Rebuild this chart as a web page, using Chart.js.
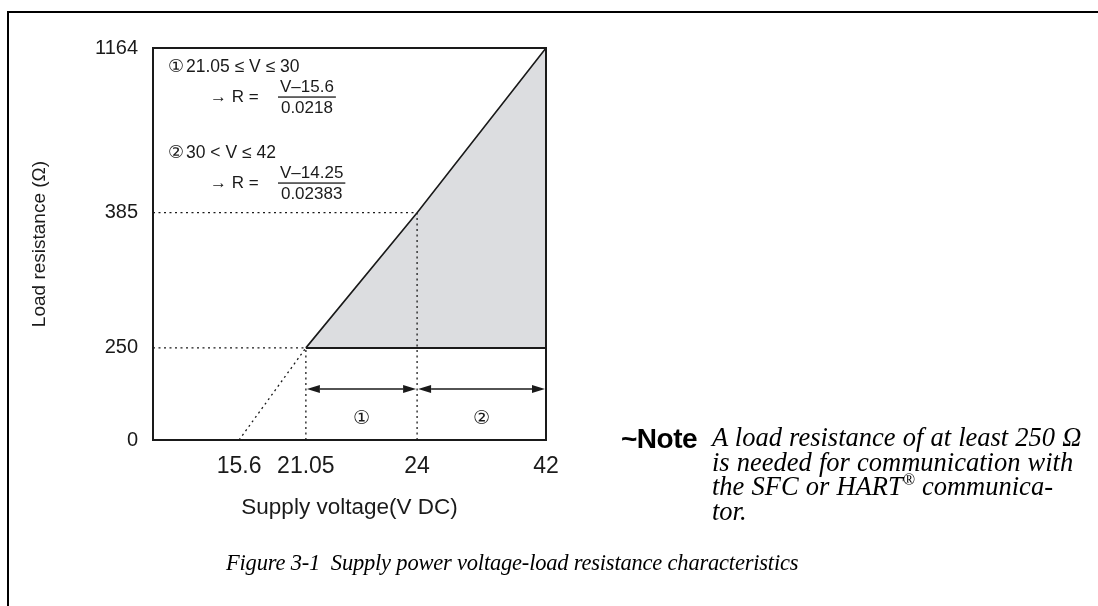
<!DOCTYPE html>
<html>
<head>
<meta charset="utf-8">
<script src="https://cdn.jsdelivr.net/npm/chart.js@4"></script>
<style>
  html, body { margin: 0; padding: 0; background: #fff; }
  body { width: 1098px; height: 606px; position: relative; overflow: hidden; }
  .frame { position: absolute; left: 7px; top: 11px; width: 1100px; height: 600px;
           border-left: 2px solid #000; border-top: 2px solid #000; }
  #wrap { position: absolute; left: 0; top: 0; width: 1098px; height: 606px; }
  .note-head { position: absolute; left: 621px; top: 425px; font: bold 28px "Liberation Sans", Arial, sans-serif; line-height: 28px; letter-spacing: -0.5px; }
  .note-text { position: absolute; left: 712px; top: 425px; font: italic 26.5px "Liberation Serif", "Times New Roman", serif; line-height: 24.5px; white-space: nowrap; word-spacing: 0.5px; }
  .note-text sup { font-size: 16px; line-height: 0; vertical-align: 10px; }
  .caption { position: absolute; left: 226px; top: 550px; font: italic 22.5px "Liberation Serif", "Times New Roman", serif; white-space: pre; letter-spacing: -0.2px; }
</style>
</head>
<body>
<div class="frame"></div>
<div id="wrap"><canvas id="myChart" width="1098" height="606"></canvas></div>
<div class="note-head">~Note</div>
<div class="note-text">A load resistance of at least 250 Ω<br>is needed for communication with<br>the SFC or HART<sup>®</sup> communica-<br>tor.</div>
<div class="caption">Figure 3-1  Supply power voltage-load resistance characteristics</div>
<script>
// axis ticks
const voltageTicks = [15.6, 21.05, 24, 42];
const resistanceTicks = [0, 250, 385, 1164];

// operating region: upper limit R = f(V) and the 250 ohm minimum
const limitVoltage = [21.05, 24, 42];
const limitResistance = [250, 385, 1164];
const minResistance = [250, 250, 250];

// R line extrapolated back to zero
const zeroVoltage = 15.6;
const voltageStart = 10;

// the axes are not to scale: where each value sits along the axis (0..1)
const xStops = { values: [voltageStart, 15.6, 21.05, 24, 42], at: [0, 0.219, 0.389, 0.672, 1], ticks: voltageTicks };
const yStops = { values: [0, 250, 385, 1164], at: [0, 0.235, 0.58, 1], ticks: resistanceTicks };

const sans = '"Liberation Sans", Arial, sans-serif';
const ink = "#1a1a1a";

// linear scale that interpolates between fixed stops
class BrokenScale extends Chart.LinearScale {
  stops() {
    return this.axis === "x" ? xStops : yStops;
  }
  determineDataLimits() {
    const s = this.stops();
    this.min = s.values[0];
    this.max = s.values[s.values.length - 1];
  }
  buildTicks() {
    return this.stops().ticks.map((v) => ({ value: v }));
  }
  getPixelForValue(value) {
    const { values, at } = this.stops();
    let i = 1;
    while (i < values.length - 1 && value > values[i]) i++;
    const t = (value - values[i - 1]) / (values[i] - values[i - 1]);
    return this.getPixelForDecimal(at[i - 1] + t * (at[i] - at[i - 1]));
  }
  getValueForPixel(pixel) {
    const { values, at } = this.stops();
    const d = this.getDecimalForPixel(pixel);
    let i = 1;
    while (i < at.length - 1 && d > at[i]) i++;
    const t = (d - at[i - 1]) / (at[i] - at[i - 1]);
    return values[i - 1] + t * (values[i] - values[i - 1]);
  }
}
BrokenScale.id = "broken";
BrokenScale.defaults = Chart.LinearScale.defaults;
Chart.register(BrokenScale);

function pts(xs, ys) {
  return xs.map((x, i) => ({ x: x, y: ys[i] }));
}

function dotted(data) {
  return {
    data: data,
    borderColor: ink,
    borderWidth: 1.3,
    borderDash: [2, 3.5],
    pointRadius: 0,
    fill: false,
    order: 1,
  };
}

function fraction(ctx, x, y, top, bottom) {
  const w = Math.max(ctx.measureText(top).width, ctx.measureText(bottom).width) + 4;
  ctx.textAlign = "center";
  ctx.fillText(top, x + w / 2, y - 10);
  ctx.fillText(bottom, x + w / 2, y + 11);
  ctx.fillRect(x, y - 0.6, w, 1.3);
}

function arrow(ctx, x1, x2, y) {
  const len = 13, half = 4;
  ctx.beginPath();
  ctx.moveTo(x1 + len, y);
  ctx.lineTo(x2 - len, y);
  ctx.stroke();
  ctx.beginPath();
  ctx.moveTo(x1, y);
  ctx.lineTo(x1 + len, y - half);
  ctx.lineTo(x1 + len, y + half);
  ctx.closePath();
  ctx.moveTo(x2, y);
  ctx.lineTo(x2 - len, y - half);
  ctx.lineTo(x2 - len, y + half);
  ctx.closePath();
  ctx.fill();
}

const notes = {
  id: "notes",
  afterDraw(chart) {
    const { ctx, chartArea: a, scales } = chart;
    const x = scales.x;
    ctx.save();
    ctx.strokeStyle = ink;
    ctx.fillStyle = ink;

    // plot frame
    ctx.lineWidth = 2;
    ctx.strokeRect(a.left, a.top, a.right - a.left, a.bottom - a.top);

    // ranges 1 and 2
    const ay = a.bottom - 51;
    const x0 = x.getPixelForValue(limitVoltage[0]);
    const x1 = x.getPixelForValue(limitVoltage[1]);
    const x2 = x.getPixelForValue(limitVoltage[2]);
    ctx.lineWidth = 1.6;
    arrow(ctx, x0 + 1, x1 - 1, ay);
    arrow(ctx, x1 + 1, x2 - 1, ay);
    ctx.font = '19px "DejaVu Sans", sans-serif';
    ctx.textAlign = "center";
    ctx.textBaseline = "middle";
    ctx.fillText("①", (x0 + x1) / 2, a.bottom - 21);
    ctx.fillText("②", (x1 + x2) / 2, a.bottom - 21);

    // formulas
    const fx = a.left;
    ctx.font = '18px "DejaVu Sans", sans-serif';
    ctx.fillText("①", fx + 23, a.top + 19);
    ctx.fillText("②", fx + 23, a.top + 105);
    ctx.font = "17.5px " + sans;
    ctx.textAlign = "left";
    ctx.fillText("21.05 ≤ V ≤ 30", fx + 33, a.top + 19);
    ctx.fillText("30 < V ≤ 42", fx + 33, a.top + 105);
    ctx.font = "17px " + sans;
    ctx.fillText("→ R =", fx + 57, a.top + 49);
    ctx.fillText("→ R =", fx + 57, a.top + 135);
    fraction(ctx, fx + 125, a.top + 49, "V–15.6", "0.0218");
    fraction(ctx, fx + 125, a.top + 135, "V–14.25", "0.02383");
    ctx.restore();
  },
};

const data = {
  datasets: [
    {
      data: pts(limitVoltage, limitResistance),
      borderColor: ink,
      borderWidth: 1.6,
      backgroundColor: "#dcdde0",
      pointRadius: 0,
      fill: "+1",
      order: 3,
    },
    {
      data: pts(limitVoltage, minResistance),
      borderColor: ink,
      borderWidth: 2,
      pointRadius: 0,
      fill: false,
      order: 2,
    },
    dotted([{ x: voltageStart, y: minResistance[0] }, { x: limitVoltage[0], y: minResistance[0] }]),
    dotted([{ x: limitVoltage[0], y: 0 }, { x: limitVoltage[0], y: minResistance[0] }]),
    dotted([{ x: voltageStart, y: limitResistance[1] }, { x: limitVoltage[1], y: limitResistance[1] }]),
    dotted([{ x: limitVoltage[1], y: 0 }, { x: limitVoltage[1], y: limitResistance[1] }]),
    dotted([{ x: zeroVoltage, y: 0 }, { x: limitVoltage[0], y: limitResistance[0] }]),
  ],
};

const config = {
  type: "line",
  data: data,
  options: {
    responsive: false,
    animation: false,
    events: [],
    layout: { padding: { left: 20, top: 48, right: 552, bottom: 0 } },
    plugins: { legend: { display: false }, tooltip: { enabled: false } },
    elements: { line: { tension: 0 } },
    scales: {
      x: {
        type: "broken",
        grid: { display: false, drawTicks: false },
        border: { display: false },
        ticks: { color: ink, padding: 13, font: { family: sans, size: 23 }, callback: (v) => String(v), autoSkip: false, maxRotation: 0 },
        title: { display: true, text: "Supply voltage(V DC)", color: ink, font: { family: sans, size: 22.5 }, padding: { bottom: 85 } },
        afterFit: (s) => { s.height = 166; },
      },
      y: {
        type: "broken",
        grid: { display: false, drawTicks: false },
        border: { display: false },
        ticks: { color: ink, padding: 15, font: { family: sans, size: 20 }, callback: (v) => String(v), autoSkip: false },
        title: { display: true, text: "Load resistance (Ω)", color: ink, font: { family: sans, size: 19 }, padding: { top: 8 } },
        afterFit: (s) => { s.width = 133; },
      },
    },
  },
  plugins: [notes],
};

new Chart(document.getElementById("myChart"), config);
</script>
</body>
</html>
